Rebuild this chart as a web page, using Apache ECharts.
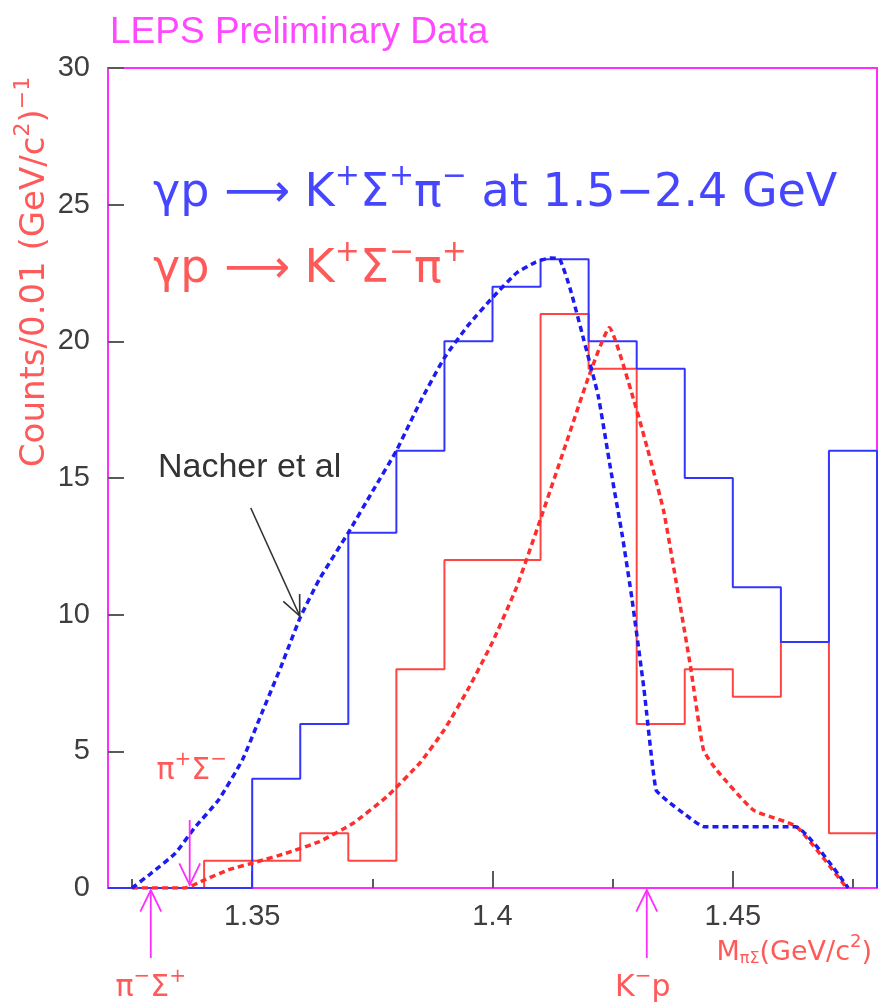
<!DOCTYPE html>
<html>
<head>
<meta charset="utf-8">
<script src="https://cdn.jsdelivr.net/npm/echarts@6/dist/echarts.min.js"></script>
<style>
  html, body { margin: 0; padding: 0; background: #ffffff; }
  #chart { width: 881px; height: 1005px; }
</style>
</head>
<body>
<div id="chart"></div>
<script>
// πΣ invariant-mass spectra, 0.01 GeV/c² bins from 1.32 to 1.48
const binEdges = [1.32, 1.33, 1.34, 1.35, 1.36, 1.37, 1.38, 1.39, 1.40, 1.41, 1.42, 1.43, 1.44, 1.45, 1.46, 1.47, 1.48];
// γp → K⁺Σ⁺π⁻
const sigmaPlusCounts  = [0, 0, 0, 4, 6, 13, 16, 20, 22, 23, 20, 19, 15, 11, 9, 16];
// γp → K⁺Σ⁻π⁺
const sigmaMinusCounts = [0, 0, 1, 1, 2, 1, 8, 12, 12, 21, 19, 6, 8, 7, 9, 2];

// Nacher et al. predictions
const nacherPlusMass = [1.325, 1.329, 1.334, 1.338, 1.343, 1.348, 1.352, 1.356, 1.360, 1.364, 1.370, 1.375, 1.380, 1.385, 1.390, 1.395, 1.400, 1.405, 1.409, 1.412, 1.414, 1.4162, 1.419, 1.422, 1.4245, 1.427, 1.429, 1.4315, 1.434, 1.4363, 1.440, 1.444, 1.463, 1.474];
const nacherPlusCounts = [0, 0.54, 1.27, 2.2, 3.22, 4.7, 6.4, 8.1, 9.9, 11.3, 13.0, 14.5, 16.0, 17.8, 19.4, 20.6, 21.6, 22.5, 22.9, 23.05, 23.0, 21.9, 20.05, 18.0, 15.4, 12.9, 10.6, 7.3, 3.6, 3.2, 2.7, 2.24, 2.24, 0];
const nacherMinusMass = [1.325, 1.336, 1.340, 1.345, 1.351, 1.357, 1.364, 1.371, 1.378, 1.385, 1.390, 1.395, 1.400, 1.405, 1.410, 1.415, 1.420, 1.4243, 1.4294, 1.4322, 1.4356, 1.4384, 1.4412, 1.4439, 1.4467, 1.4543, 1.4633, 1.4737];
const nacherMinusCounts = [0, 0, 0.29, 0.66, 0.96, 1.27, 1.7, 2.37, 3.34, 4.6, 5.8, 7.3, 9.0, 11.0, 13.5, 16.1, 18.7, 20.5, 17.85, 16.1, 13.8, 11.0, 8.1, 5.05, 4.3, 2.85, 2.24, 0];

// Thresholds (GeV/c²)
const thresholdPiMinusSigmaPlus = 1.3289;
const thresholdPiPlusSigmaMinus = 1.3370;
const thresholdKMinusP = 1.4321;

// Axis ticks
const xMajorTicks = [1.35, 1.4, 1.45];
const xMinorTicks = [1.325, 1.375, 1.425, 1.475];
const yMin = 0, yMax = 30, yStep = 5;

const BLUE = '#3434ff', BLUE_DOT = '#1c1cf2';
const RED = '#ff4444', RED_DOT = '#ff2e2e';
const MAGENTA = '#ff2cff';
const TICK = '#5a5a5a', LABEL = '#3e3e3e';
const FONT = "'Liberation Sans', Arial, sans-serif";
const WIDE = "'DejaVu Sans', sans-serif";

function histOutline(edges, counts) {
  const pts = [[edges[0], 0]];
  counts.forEach((c, i) => { pts.push([edges[i], c]); pts.push([edges[i + 1], c]); });
  pts.push([edges[edges.length - 1], 0]);
  return pts;
}
function pairs(xs, ys) { return xs.map((x, i) => [x, ys[i]]); }

const chart = echarts.init(document.getElementById('chart'), null, { renderer: 'canvas' });

chart.setOption({
  animation: false,
  backgroundColor: '#ffffff',
  grid: { left: 108, right: 4, top: 68, bottom: 117, show: true, borderColor: MAGENTA, borderWidth: 2, backgroundColor: 'transparent' },
  xAxis: [
    {
      type: 'value', min: binEdges[0], max: binEdges[binEdges.length - 1], position: 'bottom',
      axisLine: { onZero: false, lineStyle: { color: MAGENTA, width: 2 } },
      axisTick: { inside: true, length: 17, customValues: xMajorTicks, lineStyle: { color: TICK, width: 2 } },
      axisLabel: { customValues: xMajorTicks, color: LABEL, fontSize: 29, fontFamily: FONT, margin: 14 },
      splitLine: { show: false }
    },
    {
      type: 'value', min: binEdges[0], max: binEdges[binEdges.length - 1], position: 'bottom', offset: 0,
      axisLine: { show: false, onZero: false },
      axisTick: { inside: true, length: 9, customValues: xMinorTicks, lineStyle: { color: TICK, width: 2 } },
      axisLabel: { show: false },
      splitLine: { show: false }
    }
  ],
  yAxis: {
    type: 'value', min: yMin, max: yMax, interval: yStep,
    axisLine: { show: true, lineStyle: { color: MAGENTA, width: 2 } },
    axisTick: { show: true, inside: true, length: 16, lineStyle: { color: TICK, width: 2 } },
    axisLabel: { color: LABEL, fontSize: 29, fontFamily: FONT, margin: 18 },
    splitLine: { show: false }
  },
  series: [
    { name: 'K+Σ-π+', type: 'line', data: histOutline(binEdges, sigmaMinusCounts), showSymbol: false, symbol: 'none',
      lineStyle: { color: RED, width: 2 }, z: 3 },
    { name: 'K+Σ+π-', type: 'line', data: histOutline(binEdges, sigmaPlusCounts), showSymbol: false, symbol: 'none',
      lineStyle: { color: BLUE, width: 2 }, z: 4 },
    { name: 'Nacher Σ-', type: 'line', data: pairs(nacherMinusMass, nacherMinusCounts), showSymbol: false, symbol: 'none',
      smooth: 0.15, lineStyle: { color: RED_DOT, width: 3.5, type: [6, 4] }, z: 5 },
    { name: 'Nacher Σ+', type: 'line', data: pairs(nacherPlusMass, nacherPlusCounts), showSymbol: false, symbol: 'none',
      smooth: 0.15, lineStyle: { color: BLUE_DOT, width: 3.5, type: [6, 4] }, z: 6 }
  ]
});

// Annotations placed through the axis scales
function px(x, y) { return chart.convertToPixel({ xAxisIndex: 0, yAxisIndex: 0 }, [x, y]); }

function arrow(x1, y1, x2, y2, color, width, head, spread) {
  const ang = Math.atan2(y2 - y1, x2 - x1);
  const a1 = ang + Math.PI - spread, a2 = ang + Math.PI + spread;
  return [
    { type: 'line', shape: { x1, y1, x2, y2 }, style: { stroke: color, lineWidth: width }, z: 20 },
    { type: 'polyline', shape: { points: [
        [x2 + head * Math.cos(a1), y2 + head * Math.sin(a1)], [x2, y2], [x2 + head * Math.cos(a2), y2 + head * Math.sin(a2)] ] },
      style: { stroke: color, lineWidth: width, fill: null }, z: 20 }
  ];
}

const base0 = px(binEdges[0], 0);
const axisY = base0[1];
const pMS = px(thresholdPiMinusSigmaPlus, 0);
const pPS = px(thresholdPiPlusSigmaMinus, 0);
const pKP = px(thresholdKMinusP, 0);
const nTip = px(1.3599, 9.95);

const big = (c) => ({ fontSize: 46, fontFamily: WIDE, fill: c, lineHeight: 55, verticalAlign: 'bottom' });
const sup = (c) => ({ fontSize: 30, fontFamily: WIDE, fill: c, lineHeight: 55, verticalAlign: 'top' });
const arr = (c) => ({ fontSize: 46, fontFamily: WIDE, fill: c, lineHeight: 55, verticalAlign: 'bottom' });
const mid = (c, s) => ({ fontSize: s, fontFamily: WIDE, fill: c, lineHeight: s + 6, verticalAlign: 'bottom' });
const msup = (c, s) => ({ fontSize: Math.round(s * 0.66), fontFamily: WIDE, fill: c, lineHeight: s + 6, verticalAlign: 'top' });
const msub = (c, s) => ({ fontSize: Math.round(s * 0.6), fontFamily: WIDE, fill: c, lineHeight: s + 6, verticalAlign: 'bottom' });

const BLUE_TXT = '#4646ff', RED_TXT = '#ff5a5a', MAG_TXT = '#ff48ff';

function label(x, y, text, rich, align, extra) {
  return Object.assign({ type: 'text', x, y, z: 30, style: { text, rich, align: align || 'left', verticalAlign: 'middle' } }, extra || {});
}

const graphics = [];
// title
graphics.push({ type: 'text', x: 110, y: 33, z: 30, style: { text: 'LEPS Preliminary Data', fill: MAG_TXT, fontSize: 37, fontFamily: FONT, verticalAlign: 'middle', align: 'left' } });
// reaction labels
const rb = { b: big(BLUE_TXT), s: sup(BLUE_TXT), a: arr(BLUE_TXT) };
const rr = { b: big(RED_TXT), s: sup(RED_TXT), a: arr(RED_TXT) };
graphics.push(label(153, 190, '{b|γp }{a|⟶}{b| K}{s|+}{b|Σ}{s|+}{b|π}{s|−}{b| at 1.5−2.4 GeV}', rb));
graphics.push(label(153, 266, '{b|γp }{a|⟶}{b| K}{s|+}{b|Σ}{s|−}{b|π}{s|+}', rr));
// model label and pointer
graphics.push({ type: 'text', x: 158, y: 468, z: 30, style: { text: 'Nacher et al', fill: '#333333', fontSize: 34, fontFamily: FONT, verticalAlign: 'middle', align: 'left' } });
graphics.push(...arrow(nTip[0] - 49, nTip[1] - 108, nTip[0], nTip[1], '#333333', 1.6, 22, 0.42));
// thresholds
graphics.push(...arrow(pMS[0], axisY + 70, pMS[0], axisY + 2, MAGENTA, 1.8, 24, 0.45));
graphics.push(...arrow(pKP[0], axisY + 70, pKP[0], axisY + 2, MAGENTA, 1.8, 24, 0.45));
graphics.push(...arrow(pPS[0], axisY - 68, pPS[0], axisY - 3, MAGENTA, 1.8, 24, 0.45));
const S = 30;
const rs = { m: mid(RED_TXT, S), p: msup(RED_TXT, S), u: msub(RED_TXT, S) };
graphics.push(label(pMS[0], axisY + 97, '{m|π}{p|−}{m|Σ}{p|+}', rs, 'center'));
graphics.push(label(pKP[0] - 4, axisY + 97, '{m|K}{p|−}{m|p}', rs, 'center'));
graphics.push(label(pPS[0] + 2, axisY - 120, '{m|π}{p|+}{m|Σ}{p|−}', rs, 'center'));
// axis titles
const rx = { m: mid(RED_TXT, 27), p: msup(RED_TXT, 27), u: msub(RED_TXT, 27) };
graphics.push(label(872, axisY + 62, '{m|M}{u|πΣ}{m|(GeV/c}{p|2}{m|)}', rx, 'right'));
const ry = { m: mid(RED_TXT, 34), p: msup(RED_TXT, 34) };
graphics.push(label(32, 272, '{m|Counts/0.01 (GeV/c}{p|2}{m|)}{p|−1}', ry, 'center', { rotation: Math.PI / 2 }));

chart.setOption({ graphic: graphics });
</script>
</body>
</html>
